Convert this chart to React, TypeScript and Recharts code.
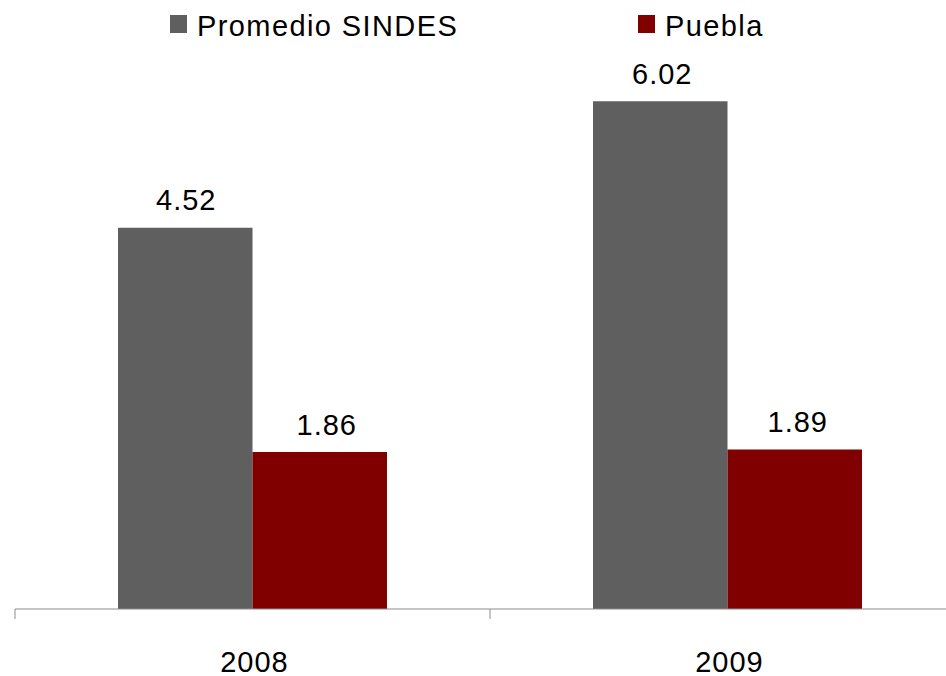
import React from 'react';
import { BarChart, Bar, XAxis, YAxis, LabelList } from 'recharts';

const categories = ['2008', '2009'];
const sindesValues = [4.52, 6.02];
const pueblaValues = [1.86, 1.89];
const seriesNames = ['Promedio SINDES', 'Puebla'];
const seriesColors = ['#5f5f5f', '#800000'];

const data = categories.map((year, i) => ({
  year,
  sindes: sindesValues[i],
  puebla: pueblaValues[i],
}));

const CHART_W = 970;
const CHART_H = 700;
const MARGIN = { top: 18.5, right: 5, bottom: 24, left: 15 };
const PLOT_W = CHART_W - MARGIN.left - MARGIN.right;
const BAND = PLOT_W / categories.length;
const FONT = '"Liberation Sans", Arial, sans-serif';
const FONT_SIZE = 29;
const NUM_SPACING = 1;
const LEGEND_SPACING = 1.4;
const AXIS_COLOR = '#8c8c8c';
const LABEL_GAP = 17.5;
// horizontal nudges of the value labels, per series, per category
const sindesLabelNudge = [1, 2];
const pueblaLabelNudge = [7, 3];

const CategoryTick = (props: any) => {
  const { x, y, payload } = props;
  return (
    <g>
      <line x1={x - BAND / 2} x2={x - BAND / 2} y1={y} y2={y + 10} stroke={AXIS_COLOR} strokeWidth={1} />
      <text
        x={x + 2}
        y={y + 63}
        textAnchor="middle"
        fontSize={FONT_SIZE}
        fontFamily={FONT}
        letterSpacing={NUM_SPACING}
        fill="#000"
      >
        {payload.value}
      </text>
    </g>
  );
};

const makeValueLabel = (nudges: number[]) => (props: any) => {
  const { x, y, width, value, index } = props;
  return (
    <text
      x={Number(x) + Number(width) / 2 + (nudges[index] || 0)}
      y={Number(y) - LABEL_GAP}
      textAnchor="middle"
      fontSize={FONT_SIZE}
      fontFamily={FONT}
      letterSpacing={NUM_SPACING}
      fill="#000"
    >
      {Number(value).toFixed(2)}
    </text>
  );
};

const legendItems = [
  { x: 170, name: seriesNames[0], color: seriesColors[0] },
  { x: 638, name: seriesNames[1], color: seriesColors[1] },
];

export default function App() {
  return (
    <div
      style={{
        position: 'fixed',
        top: 0,
        left: 0,
        width: 946,
        height: 676,
        overflow: 'hidden',
        background: '#fff',
        fontFamily: FONT,
      }}
    >
      <BarChart width={CHART_W} height={CHART_H} data={data} margin={MARGIN} barGap={0}>
        <XAxis
          dataKey="year"
          height={67}
          axisLine={{ stroke: AXIS_COLOR, strokeWidth: 1 }}
          tickLine={false}
          tickSize={0}
          tickMargin={0}
          tick={<CategoryTick />}
          interval={0}
        />
        <YAxis hide domain={[0, 7]} />
        <Bar dataKey="sindes" name={seriesNames[0]} fill={seriesColors[0]} barSize={134.5} isAnimationActive={false}>
          <LabelList dataKey="sindes" content={makeValueLabel(sindesLabelNudge)} />
        </Bar>
        <Bar dataKey="puebla" name={seriesNames[1]} fill={seriesColors[1]} barSize={134.5} isAnimationActive={false}>
          <LabelList dataKey="puebla" content={makeValueLabel(pueblaLabelNudge)} />
        </Bar>
      </BarChart>
      <svg width={946} height={50} style={{ position: 'absolute', top: 0, left: 0 }}>
        {legendItems.map((it) => (
          <g key={it.name}>
            <rect x={it.x} y={15} width={17} height={18} fill={it.color} />
            <text
              x={it.x + 27}
              y={36}
              fontSize={FONT_SIZE}
              fontFamily={FONT}
              letterSpacing={LEGEND_SPACING}
              fill="#000"
            >
              {it.name}
            </text>
          </g>
        ))}
      </svg>
    </div>
  );
}
